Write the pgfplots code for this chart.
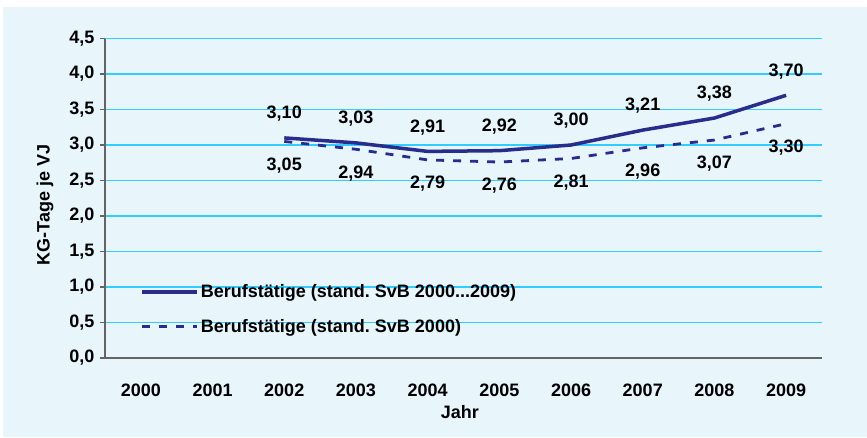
\documentclass[border=0pt]{standalone}
\usepackage{pgfplots}
\pgfplotsset{compat=1.18}
\usepackage{fontspec}
\setmainfont{Liberation Sans}
\frenchspacing
\definecolor{bgblue}{RGB}{232,245,251}
\definecolor{gridcyan}{RGB}{51,204,255}
\definecolor{navy}{RGB}{40,45,140}
\definecolor{axgray}{RGB}{100,100,100}
\newcommand{\chartfont}{\fontsize{18}{21}\selectfont\bfseries}

\begin{document}
\begin{tikzpicture}
\fill[white] (0,0) rectangle (867pt,437pt);
\fill[bgblue] (3pt,0) rectangle (867pt,430pt);
\begin{axis}[
    at={(105pt,79pt)}, anchor=south west,
    scale only axis,
    width=717pt, height=319.5pt,
    xmin=-0.5, xmax=9.5,
    ymin=0, ymax=4.5,
    xtick={0,1,2,3,4,5,6,7,8,9},
    xticklabels={2000,2001,2002,2003,2004,2005,2006,2007,2008,2009},
    ytick={0,0.5,1,1.5,2,2.5,3,3.5,4,4.5},
    font=\chartfont,
    /pgf/number format/assume math mode=true,
    yticklabel={\pgfmathprintnumber[fixed,fixed zerofill,precision=1,use comma]{\tick}},
    axis x line*=bottom, axis y line*=left,
    axis line style={-, draw=axgray, line width=1.2pt},
    xtick style={draw=none},
    ytick style={draw=axgray, line width=1.2pt},
    tick align=outside, major tick length=5pt,
    xticklabel style={anchor=center, yshift=-27pt},
    yticklabel style={xshift=-2pt},
    ymajorgrids, grid style={gridcyan, line width=1.5pt},
    ylabel={KG-Tage je VJ},
    ylabel style={at={(axis description cs:-0.0837,0.479)}, anchor=center},
    xlabel={Jahr},
    xlabel style={at={(axis description cs:0.495,-0.168)}, anchor=center},
    legend style={at={(0.045,0.152)}, anchor=west, draw=none, fill=none,
                  row sep=16pt, cells={anchor=west}, font=\chartfont},
    legend cell align=left,
    legend image code/.code={\draw[#1] (0pt,0pt) -- (55pt,0pt);},
    nodes near coords,
    point meta=y,
    nodes near coords style={font=\chartfont, text=black,
        /pgf/number format/fixed, /pgf/number format/fixed zerofill,
        /pgf/number format/precision=2, /pgf/number format/use comma},
]
  % stand. SvB 2000-2009
  \addplot[navy, line width=3.5pt, mark=none,
           every node near coord/.append style={anchor=center, yshift=24pt}]
    coordinates {(2,3.10) (3,3.03) (4,2.91) (5,2.92) (6,3.00) (7,3.21) (8,3.38) (9,3.70)};
  \addlegendentry{Berufstätige (stand. SvB 2000{.}{.}{.}2009)}
  % stand. SvB 2000
  \addplot[navy, line width=2.8pt, mark=none, dash pattern=on 8pt off 9pt,
           every node near coord/.append style={anchor=center, yshift=-24pt}]
    coordinates {(2,3.05) (3,2.94) (4,2.79) (5,2.76) (6,2.81) (7,2.96) (8,3.07) (9,3.30)};
  \addlegendentry{Berufstätige (stand. SvB 2000)}
\end{axis}
\end{tikzpicture}
\end{document}
